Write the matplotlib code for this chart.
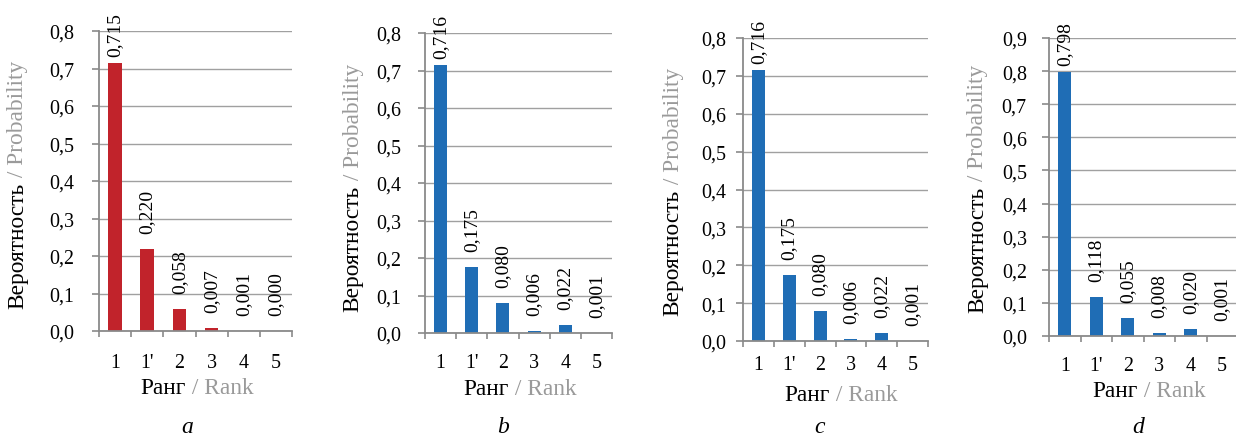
import numpy as np
import matplotlib
matplotlib.use("Agg")
import matplotlib.pyplot as plt
from matplotlib.ticker import FuncFormatter

plt.rcParams["font.family"] = ["Liberation Serif", "DejaVu Serif"]

W, H = 1236, 439
DPI = 100

# ── данные ────────────────────────────────────────────────────────────────
ranks = ["1", "1'", "2", "3", "4", "5"]
prob_a = [0.715, 0.220, 0.058, 0.007, 0.001, 0.000]
prob_b = [0.716, 0.175, 0.080, 0.006, 0.022, 0.001]
prob_c = [0.716, 0.175, 0.080, 0.006, 0.022, 0.001]
prob_d = [0.798, 0.118, 0.055, 0.008, 0.020, 0.001]
y_max = [0.8, 0.8, 0.8, 0.9]
letters = ["a", "b", "c", "d"]

RED = "#C1232B"
BLUE = "#1F6DB5"
GRID = "#A0A0A0"
AXIS = "#8A8A8A"
LIGHT = "#9A9A9A"

# ── раскладка панелей (пиксели) ─────────────────────────────────────────────
# (left, right, top, bottom), x-tick pad, y-tick pad, ylabel (x, y), xlabel (x, y), letter (x, y)
layout = [
    dict(box=(99, 292, 32, 332), xpad=15.5, ypad=13, yl=(18, 185), xl=(197, 389), let=(187, 428)),
    dict(box=(425, 612, 34, 334), xpad=14.5, ypad=12, yl=(353, 188), xl=(520, 390), let=(503, 428)),
    dict(box=(743, 928, 39, 342), xpad=10.0, ypad=7, yl=(673, 192), xl=(841, 396), let=(820, 428)),
    dict(box=(1049, 1238, 39, 337), xpad=14.5, ypad=11, yl=(978, 189), xl=(1149, 392), let=(1138, 428)),
]

fig = plt.figure(figsize=(W / DPI, H / DPI), dpi=DPI)
renderer = fig.canvas.get_renderer()


def fx(px):
    return px / W


def fy(py):
    return 1 - py / H


def two_tone(x, y, first, second, rotation=0, size=16.8):
    """Подпись из двух частей: чёрная + серая, центрированная в (x, y) пикселях"""
    t1 = fig.text(0, 0, first, fontsize=size, color="black", rotation=rotation,
                  ha="left", va="center")
    t2 = fig.text(0, 0, second, fontsize=size, color=LIGHT, rotation=rotation,
                  ha="left", va="center")
    b1 = t1.get_window_extent(renderer)
    b2 = t2.get_window_extent(renderer)
    if rotation == 0:
        total = b1.width + b2.width
        x0 = x - total / 2
        t1.set_position((fx(x0), fy(y)))
        t2.set_position((fx(x0 + b1.width), fy(y)))
    else:
        t1.set_ha("center")
        t2.set_ha("center")
        t1.set_va("bottom")
        t2.set_va("bottom")
        total = b1.height + b2.height
        y0 = y + total / 2  # низ первой части (в пикселях сверху)
        t1.set_position((fx(x), fy(y0)))
        t2.set_position((fx(x), fy(y0 - b1.height)))


def panel(lay, vals, ymax, color, letter):
    l, r, t, b = lay["box"]
    ax = fig.add_axes([fx(l), fy(b), fx(r - l), (b - t) / H])
    x = np.arange(len(ranks))
    ax.bar(x, vals, width=0.42, color=color, zorder=3)
    ax.set_xlim(-0.5, len(ranks) - 0.5)
    ax.set_ylim(0, ymax)
    ax.set_yticks(np.round(np.arange(0, ymax + 1e-9, 0.1), 1))
    ax.yaxis.set_major_formatter(FuncFormatter(lambda v, _: f"{v:.1f}".replace(".", ",")))
    ax.set_xticks(x, ranks)
    ax.set_xticks(np.arange(-0.5, len(ranks)), minor=True)
    ax.tick_params(axis="x", which="major", length=0, pad=lay["xpad"], labelsize=14.4)
    ax.tick_params(axis="x", which="minor", length=4, width=1.2, color=AXIS, direction="out")
    ax.tick_params(axis="y", length=5, width=1.2, color=AXIS, pad=lay["ypad"], labelsize=14.4)
    ax.grid(axis="y", color=GRID, linewidth=1.0, zorder=0)
    ax.set_axisbelow(True)
    for s in ("top", "right"):
        ax.spines[s].set_visible(False)
    for s in ("left", "bottom"):
        ax.spines[s].set_color(AXIS)
        ax.spines[s].set_linewidth(1.3)
        ax.spines[s].set_zorder(4)

    vmax = max(vals)
    for i, v in enumerate(vals):
        off = 5 if v == vmax else 11.5
        ax.annotate(f"{v:.3f}".replace(".", ","), (i, v), xytext=(0, off),
                    textcoords="offset points", rotation=90, ha="center", va="bottom",
                    fontsize=14, annotation_clip=False)

    two_tone(*lay["yl"], "Вероятность", " / Probability", rotation=90)
    two_tone(*lay["xl"], "Ранг", " / Rank")
    fig.text(fx(lay["let"][0]), fy(lay["let"][1]), letter, fontsize=17,
             style="italic", ha="center", va="center")


for lay, vals, ym, col, let in zip(layout, [prob_a, prob_b, prob_c, prob_d], y_max,
                                   [RED, BLUE, BLUE, BLUE], letters):
    panel(lay, vals, ym, col, let)

fig.savefig("out.png", dpi=DPI)
